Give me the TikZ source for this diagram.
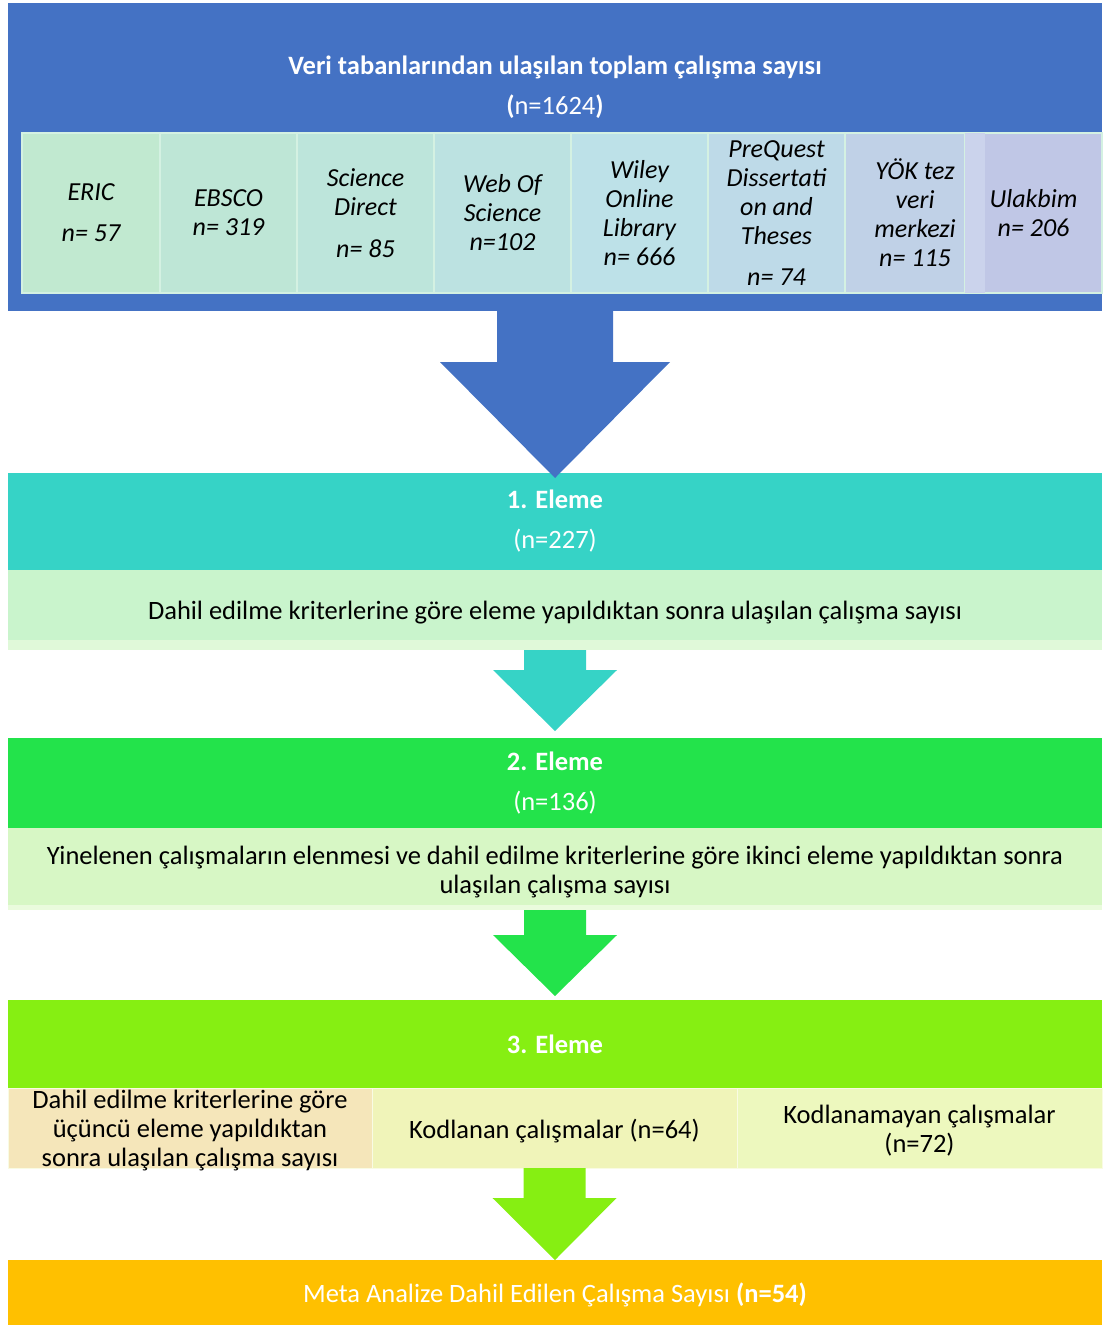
\documentclass[tikz,border=0pt]{standalone}
\usepackage{fontspec}
\setmainfont{Carlito}
\usetikzlibrary{positioning,calc}

\definecolor{topblue}{HTML}{4472C4}
\definecolor{cellline}{HTML}{D4F1E2}
\definecolor{dbA}{HTML}{C1E9D0}
\definecolor{dbB}{HTML}{BEE6D6}
\definecolor{dbC}{HTML}{BDE5DB}
\definecolor{dbD}{HTML}{BCE2E1}
\definecolor{dbE}{HTML}{BDE1E8}
\definecolor{dbF}{HTML}{BEDAE8}
\definecolor{dbG}{HTML}{C0D1E7}
\definecolor{dbH}{HTML}{CBD3EC}
\definecolor{dbI}{HTML}{C0C7E6}
\definecolor{tealbox}{HTML}{36D3C6}
\definecolor{paleA}{HTML}{C9F4CC}
\definecolor{stripA}{HTML}{E0F9D9}
\definecolor{greenbox}{HTML}{23E34B}
\definecolor{paleB}{HTML}{D7F7C5}
\definecolor{stripB}{HTML}{EAFBDD}
\definecolor{limebox}{HTML}{86EF12}
\definecolor{codeA}{HTML}{F5E6BA}
\definecolor{codeB}{HTML}{F0F4B9}
\definecolor{codeC}{HTML}{EDF8BE}
\definecolor{orangebox}{HTML}{FFC000}

% block arrow: colour, source point, tip, half shaft, half head, shaft length
\newcommand{\flowarrow}[6]{%
  \fill[#1] ($(#2)+(-#4,0)$) -- ($(#2)+(-#4,#6)$) -- ($(#2)+(-#5,#6)$) -- (#3)
    -- ($(#2)+(#5,#6)$) -- ($(#2)+(#4,#6)$) -- ($(#2)+(#4,0)$) -- cycle;}

\tikzset{
  box/.style={inner sep=0pt, outer sep=0pt, minimum width=1094pt, align=center,
    font=\fontsize{26.5}{29}\selectfont},
  dbcell/.style={box, minimum width=137pt, minimum height=160pt, draw=cellline,
    line width=1.5pt, font=\fontsize{26}{29}\selectfont\itshape},
  codecell/.style={box, minimum width=365pt, minimum height=80pt, draw=white!60!codeB,
    line width=1pt}
}

\begin{document}
\begin{tikzpicture}[x=1pt,y=-1pt]
  \useasboundingbox (0,0) rectangle (1104,1325);

  % databases
  \node[box, fill=topblue, minimum height=308pt] (total) at (555,157) {};
  \node[box, text=white] (ttl) at (555,87)
    {\textbf{Veri tabanlarından ulaşılan toplam çalışma sayısı}\\[11pt]\textbf{(}n=1624\textbf{)}};
  \node[dbcell, fill=dbA, minimum width=138pt, anchor=west] (eric) at (22,213) {ERIC\\[12pt]n= 57};
  \node[dbcell, fill=dbB, right=0pt of eric] (ebsco) {EBSCO\\n= 319};
  \node[dbcell, fill=dbC, right=0pt of ebsco] (sd) {Science\\Direct\\[13pt]n= 85};
  \node[dbcell, fill=dbD, right=0pt of sd] (wos) {Web Of\\Science\\n=102};
  \node[dbcell, fill=dbE, right=0pt of wos] (wiley) {Wiley\\Online\\Library\\n= 666};
  \node[dbcell, fill=dbF, right=0pt of wiley] (pq) {PreQuest\\Dissertati\\on and\\Theses\\[12pt]n= 74};
  \node[dbcell, fill=dbG, minimum width=140pt, right=0pt of pq] (yok) {YÖK tez\\veri\\merkezi\\n= 115};
  \node[dbcell, fill=dbI, anchor=west] (ulak) at ($(yok.east)+(-20,0)$) {Ulakbim\\n= 206};
  \node[dbcell, fill=dbH, draw=none, minimum width=20pt, anchor=east] (overlap) at (yok.east) {};

  % first screening
  \node[box, fill=tealbox, text=white, minimum height=97pt] (elim1) at (555,521.5)
    {\textbf{1. Eleme}\\[11pt](n=227)};
  \node[box, fill=paleA, minimum height=80pt] (crit1) at (555,610) {};
  \fill[stripA] ($(crit1.south west)+(0,-10)$) rectangle (crit1.south east);
  \node[box] (crit1txt) at ($(crit1.center)+(0,3)$)
    {Dahil edilme kriterlerine göre eleme yapıldıktan sonra ulaşılan çalışma sayısı};

  % second screening
  \node[box, fill=greenbox, text=white, minimum height=90pt] (elim2) at (555,783)
    {\textbf{2. Eleme}\\[11pt](n=136)};
  \node[box, fill=paleB, minimum height=82pt] (crit2) at (555,869) {};
  \fill[stripB] ($(crit2.south west)+(0,-5)$) rectangle (crit2.south east);
  \node[box] (crit2txt) at (555,872.5)
    {Yinelenen çalışmaların elenmesi ve dahil edilme kriterlerine göre ikinci eleme yapıldıktan sonra\\ulaşılan çalışma sayısı};

  % third screening
  \node[box, fill=limebox, text=white, minimum height=88pt] (elim3) at (555,1044) {\textbf{3. Eleme}};
  \node[codecell, fill=codeA, minimum width=364pt, anchor=west] (crit3) at (8,1128) {};
  \node[codecell, fill=codeB, right=0pt of crit3] (coded) {};
  \node[codecell, fill=codeC, right=0pt of coded] (uncoded) {};
  \node[box] (crit3txt) at ($(crit3.center)+(0,3)$)
    {Dahil edilme kriterlerine göre\\üçüncü eleme yapıldıktan\\sonra ulaşılan çalışma sayısı};
  \node[box] (codedtxt) at ($(coded.center)+(0,3)$) {Kodlanan çalışmalar (n=64)};
  \node[box] (uncodedtxt) at ($(uncoded.center)+(0,3)$) {Kodlanamayan çalışmalar\\(n=72)};

  % result
  \node[box, fill=orangebox, text=white, minimum height=65pt] (final) at (555,1292.5) {};
  \node[box, text=white] (finaltxt) at ($(final.center)+(0,2)$)
    {Meta Analize Dahil Edilen Çalışma Sayısı \textbf{(n=54)}};

  % arrows
  \flowarrow{topblue}{total.south}{$(elim1.north)+(0,5)$}{58}{115}{51}
  \flowarrow{tealbox}{crit1.south}{$(elim2.north)+(0,-7)$}{31}{62}{20}
  \flowarrow{greenbox}{crit2.south}{$(elim3.north)+(0,-4)$}{31}{62}{25}
  \flowarrow{limebox}{coded.south}{final.north}{31}{62}{30}
\end{tikzpicture}
\end{document}
